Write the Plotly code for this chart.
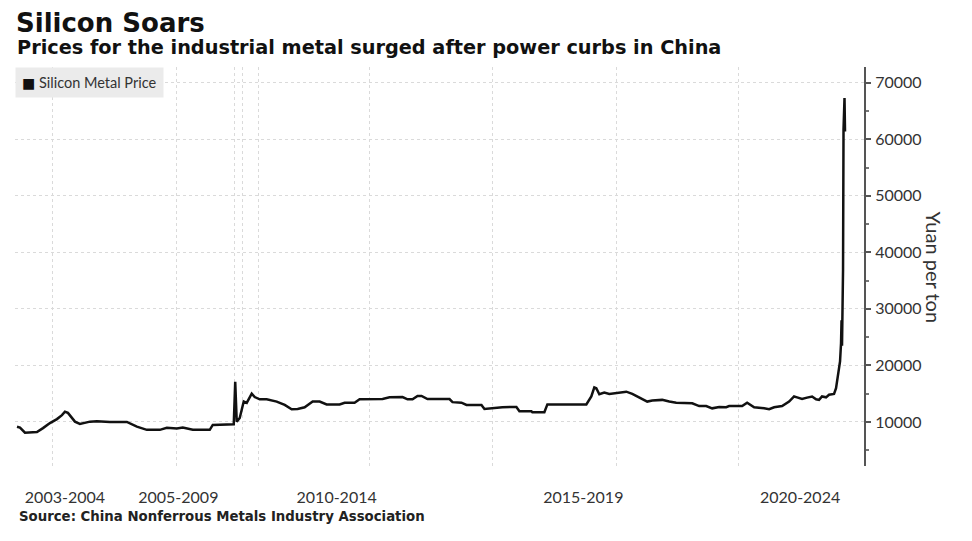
import plotly.graph_objects as go

# ---- data (decimal year, yuan per ton) ----
years = [2002.500, 2002.570, 2002.686, 2002.965, 2003.105, 2003.267, 2003.430, 2003.547,
         2003.616, 2003.686, 2003.849, 2003.965, 2004.198, 2004.360, 2004.663, 2005.058,
         2005.291, 2005.523, 2005.826, 2005.988, 2006.221, 2006.360, 2006.593, 2006.988,
         2007.058, 2007.500, 2007.547, 2007.581, 2007.616, 2007.686, 2007.779, 2007.849,
         2007.965, 2008.035, 2008.151, 2008.314, 2008.547, 2008.733, 2008.895, 2009.035,
         2009.198, 2009.384, 2009.547, 2009.709, 2010.012, 2010.128, 2010.360, 2010.477,
         2011.012, 2011.174, 2011.477, 2011.593, 2011.709, 2011.826, 2011.919, 2012.058,
         2012.570, 2012.640, 2012.849, 2012.965, 2013.314, 2013.384, 2013.802, 2014.128,
         2014.198, 2014.477, 2014.500, 2014.779, 2014.849, 2015.756, 2015.872, 2015.942,
         2015.988, 2016.058, 2016.174, 2016.291, 2016.593, 2016.686, 2016.826, 2017.035,
         2017.174, 2017.291, 2017.523, 2017.686, 2017.849, 2018.221, 2018.384, 2018.547,
         2018.686, 2018.849, 2019.012, 2019.081, 2019.384, 2019.500, 2019.593, 2019.663,
         2019.895, 2020.012, 2020.128, 2020.314, 2020.477, 2020.593, 2020.663, 2020.779,
         2020.895, 2021.012, 2021.105, 2021.174, 2021.244, 2021.337, 2021.407, 2021.523,
         2021.570, 2021.616, 2021.663, 2021.686, 2021.698, 2021.709, 2021.721, 2021.733,
         2021.744, 2021.767, 2021.779]
prices = [9150, 9000, 8100, 8200, 8900, 9800, 10500, 11200,
          11800, 11600, 10050, 9650, 10050, 10100, 10000, 10000,
          9170, 8600, 8600, 8950, 8850, 9000, 8600, 8600,
          9470, 9470, 9600, 17100, 10050, 10700, 13600, 13360,
          15000, 14400, 14000, 14000, 13600, 13000, 12250, 12300,
          12600, 13600, 13600, 13100, 13100, 13400, 13400, 14000,
          14050, 14350, 14400, 14000, 14000, 14600, 14600, 14050,
          14050, 13500, 13400, 13000, 13000, 12300, 12600, 12650,
          11900, 11900, 11700, 11700, 13100, 13100, 14500, 16100,
          15950, 14900, 15200, 14950, 15200, 15350, 14950, 14200,
          13600, 13800, 13900, 13600, 13400, 13300, 12800, 12800,
          12400, 12650, 12600, 12800, 12800, 13400, 13000, 12600,
          12400, 12250, 12600, 12800, 13600, 14500, 14350, 14050,
          14300, 14500, 14000, 13900, 14500, 14350, 14800, 14950,
          15950, 18000, 20700, 23900, 28000, 23500, 30400, 36900,
          61700, 67300, 61400]

series_name = "Silicon Metal Price"
x_label_pos = [2003.616, 2006.256, 2009.942, 2015.686, 2020.733]
x_label_text = ["2003-2004", "2005-2009", "2010-2014", "2015-2019", "2020-2024"]
x_grid_pos = [2003.337, 2006.221, 2007.570, 2007.756, 2008.128, 2010.709,
              2013.570, 2016.453, 2019.291]
y_ticks = [10000, 20000, 30000, 40000, 50000, 60000, 70000]

title = "Silicon Soars"
subtitle = "Prices for the industrial metal surged after power curbs in China"
source = "Source: China Nonferrous Metals Industry Association"
y_title = "Yuan per ton"

fig = go.Figure()
fig.add_trace(go.Scatter(x=years, y=prices, mode="lines", name=series_name,
                         line=dict(color="#111111", width=2.5), showlegend=False))

grid_col = "#dadada"
W, H = 964, 533  # page body has an 8px margin
fig.update_layout(
    width=W, height=H,
    margin=dict(l=7, r=108, t=59, b=75),
    paper_bgcolor="white", plot_bgcolor="white",
    font=dict(family="Lato, 'DejaVu Sans', sans-serif", color="#333333"),
    title=dict(text="<b>" + title + "</b>", x=8 / W, xref="container", xanchor="left",
               y=1 - 6 / H, yref="container", yanchor="top",
               font=dict(family="DejaVu Sans", size=26, color="#111111")),
    xaxis=dict(range=[2002.4535, 2022.2209], showline=False, zeroline=False,
               tickmode="array", tickvals=x_label_pos, ticktext=x_label_text,
               showgrid=False, ticks="", ticklabelstandoff=20,
               tickfont=dict(size=16, color="#333333"),
               minor=dict(tickmode="array", tickvals=x_grid_pos, showgrid=True,
                          gridcolor=grid_col, griddash="dot", gridwidth=1, ticks="")),
    yaxis=dict(side="right", range=[2200, 72800], tickmode="array", tickvals=y_ticks,
               tickformat="d",
               ticks="outside", ticklen=5, tickwidth=1.5, tickcolor="#555555",
               ticklabelstandoff=1,
               showline=True, linecolor="#555555", linewidth=2, zeroline=False,
               showgrid=True, gridcolor=grid_col, griddash="dot", gridwidth=1,
               tickfont=dict(size=16, color="#333333"),
               minor=dict(dtick=5000, tick0=0, ticks="outside", ticklen=3,
                          tickcolor="#777777", showgrid=False)),
    annotations=[
        dict(text="<b>" + subtitle + "</b>", xref="paper", yref="paper", x=0, y=1,
             xanchor="left", yanchor="middle", yshift=20, showarrow=False,
             font=dict(family="DejaVu Sans", size=19.3, color="#111111")),
        dict(text="<b>" + source + "</b>", xref="paper", yref="paper", x=2 / 850, y=0,
             xanchor="left", yanchor="middle", yshift=-50, showarrow=False,
             font=dict(family="DejaVu Sans", size=13.3, color="#222222")),
        dict(text="<span style='font-size:14px;color:#111'>■</span> " + series_name,
             xref="paper", yref="paper", x=0, y=1, xanchor="left", yanchor="top",
             showarrow=False, align="left", bgcolor="#ebebeb", borderpad=6, width=135,
             font=dict(size=14.5, color="#333333")),
        dict(text=y_title, xref="paper", yref="paper", x=1, y=0.5, xanchor="center",
             yanchor="middle", xshift=70, yshift=-1, textangle=90, showarrow=False,
             font=dict(size=20, color="#333333")),
    ],
)

fig.write_html("out.html")
